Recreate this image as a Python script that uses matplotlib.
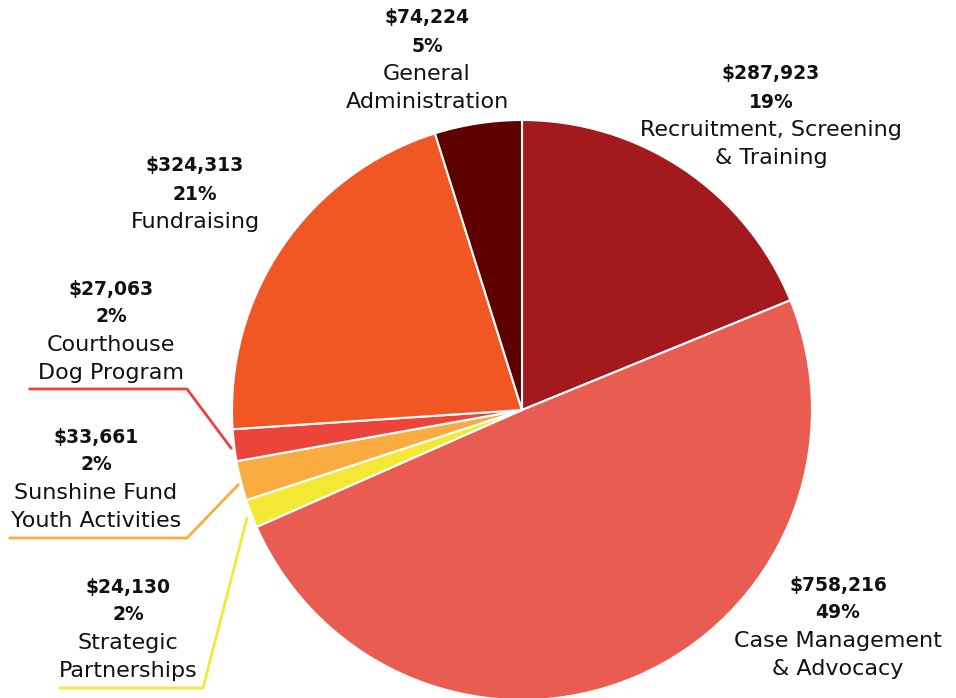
import matplotlib.pyplot as plt

# data, clockwise from 12 o'clock
names = ["Recruitment, Screening\n& Training", "Case Management\n& Advocacy",
         "Strategic\nPartnerships", "Sunshine Fund\nYouth Activities",
         "Courthouse\nDog Program", "Fundraising", "General\nAdministration"]
values = [287923, 758216, 24130, 33661, 27063, 324313, 74224]
pct_labels = ["19%", "49%", "2%", "2%", "2%", "21%", "5%"]
colors = ["#A3191E", "#E95C51", "#F5E834", "#FBAC41", "#EC443A", "#F05722", "#5F0000"]

# label anchor (center x, top y) in pixels
label_pos = [(771, 74), (838, 585), (128, 587), (96, 437), (111, 289), (195, 166), (427, 18)]

# leader lines in pixels
leaders = {
    2: [(60, 688), (203, 688), (247, 518)],
    3: [(10, 538), (187, 538), (238, 485)],
    4: [(30, 389), (187, 389), (231, 448)],
}

W, H = 956, 698
fig = plt.figure(figsize=(W / 100, H / 100), dpi=100)
ax = fig.add_axes([0, 0, 1, 1])

ax.pie(values, colors=colors, startangle=90, counterclock=False,
       center=(522, H - 410), radius=290,
       wedgeprops=dict(edgecolor="white", linewidth=1.5), frame=True)
ax.set_xlim(0, W)
ax.set_ylim(0, H)
ax.set_aspect("equal")
ax.axis("off")

fam = ["DejaVu Sans"]
step = 28
for i, (name, v) in enumerate(zip(names, values)):
    x, y = label_pos[i]
    lines = [("${:,}".format(v), "bold", 13.5), (pct_labels[i], "bold", 13.5)]
    lines += [(s, "normal", 16) for s in name.split("\n")]
    for k, (s, w, fs) in enumerate(lines):
        ax.text(x, H - (y + k * step), s, ha="center", va="center",
                fontsize=fs, fontweight=w, family=fam, color="#111111")

for i, pts in leaders.items():
    ax.plot([p[0] for p in pts], [H - p[1] for p in pts], color=colors[i], lw=2)

fig.savefig("out.png", dpi=100)
